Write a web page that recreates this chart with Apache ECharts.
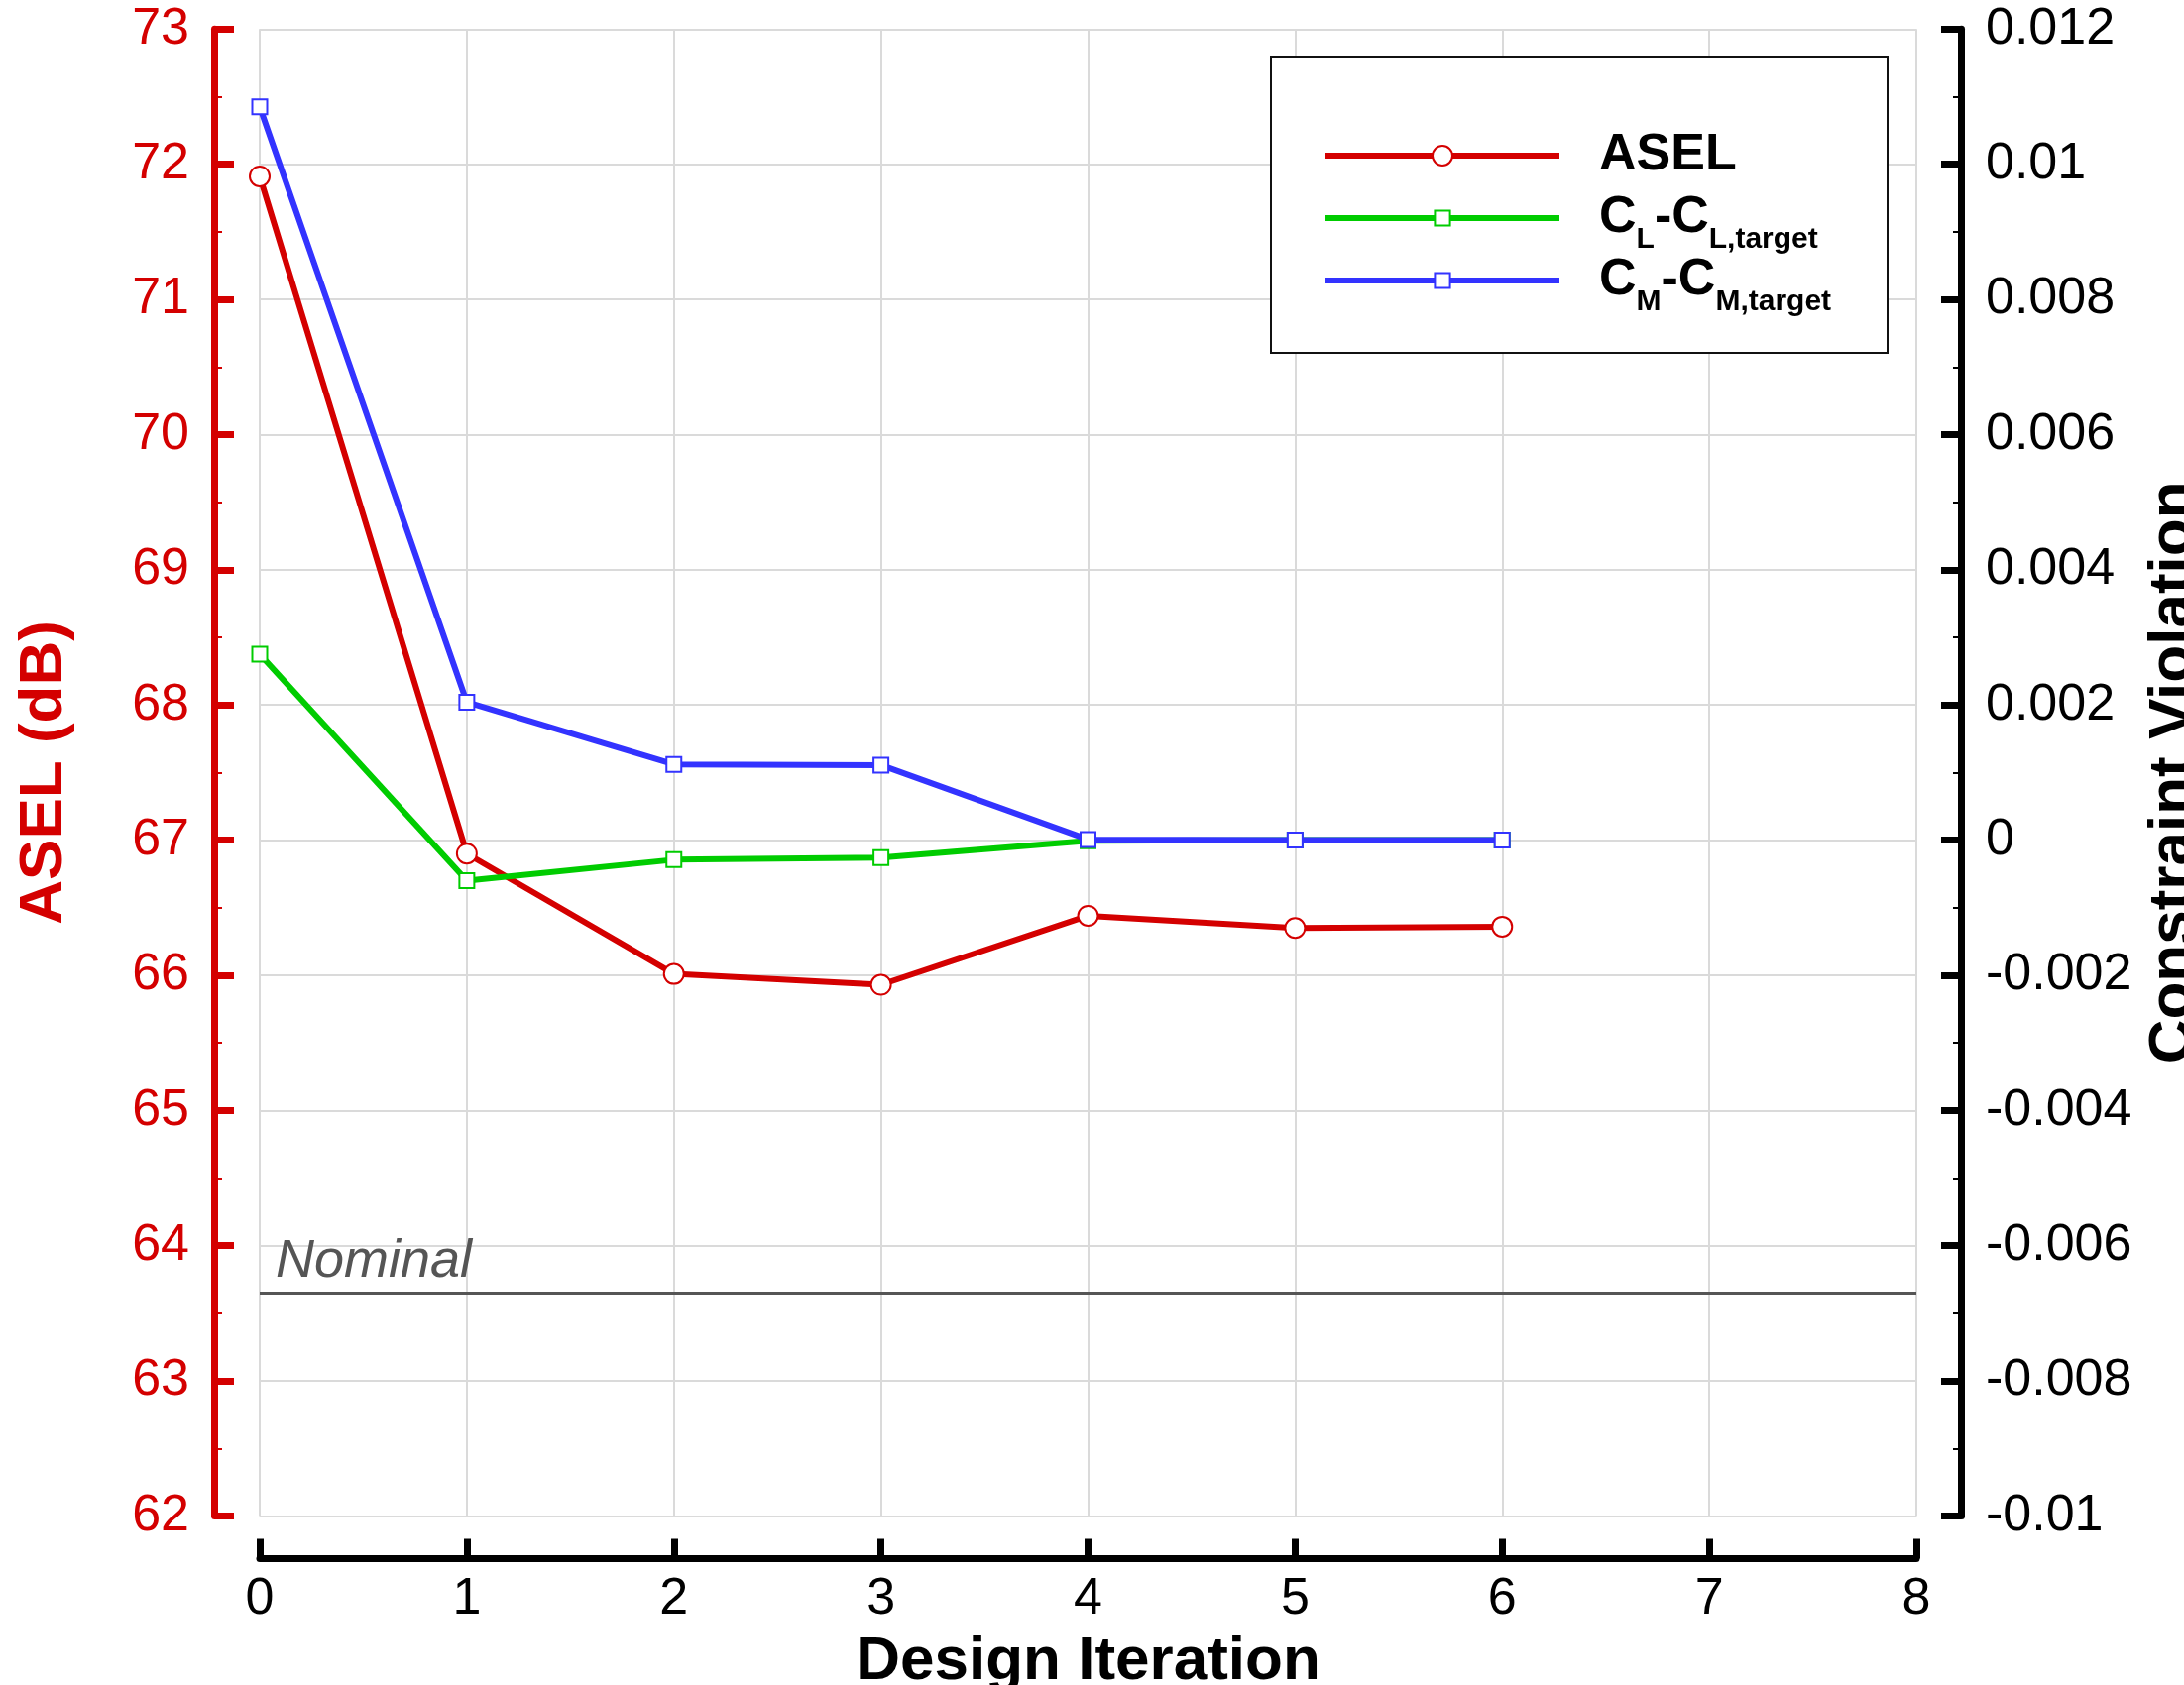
<!DOCTYPE html>
<html>
<head>
<meta charset="utf-8">
<title>ASEL and constraint violation vs design iteration</title>
<script src="https://cdn.jsdelivr.net/npm/echarts@6/dist/echarts.min.js"></script>
<style>
  html, body { margin: 0; padding: 0; background: #fff; }
  #chart { width: 2203px; height: 1700px; }
</style>
</head>
<body>
<div id="chart"></div>
<script>
// ---- data ----
const iterations = [0, 1, 2, 3, 4, 5, 6];
const aselValues = [71.91, 66.90, 66.01, 65.93, 66.44, 66.35, 66.36];          // dB
const clViolation = [0.00275, -0.00060, -0.00029, -0.00026, -0.00001, 0.0, 0.0]; // CL - CL,target
const cmViolation = [0.01085, 0.00204, 0.00112, 0.00111, 0.00001, 0.0, 0.0];     // CM - CM,target
const nominalAsel = 63.65;

// axis ranges
const iterationRange = { min: 0, max: 8, step: 1 };
const aselRange = { min: 62, max: 73, step: 1 };
const violationRange = { min: -0.01, max: 0.012, step: 0.002 };

// ---- styles ----
const FONT = '"Liberation Sans", Arial, Helvetica, sans-serif';
const RED = '#d40000';
const GREEN = '#00cc00';
const BLUE = '#3333ff';
const GRID = '#dadada';

const toPairs = (ys) => iterations.map((x, i) => [x, ys[i]]);

const legendText = {
  ASEL: 'ASEL',
  CL: '{m|C}{s|L}{m|-C}{s|L,target}',
  CM: '{m|C}{s|M}{m|-C}{s|M,target}'
};

function makeLegend(name, top, itemHeight) {
  return {
    data: [name],
    left: 1334,
    top: top,
    padding: 0,
    orient: 'vertical',
    itemWidth: 236,
    itemHeight: itemHeight,
    selectedMode: false,
    z: 5,
    itemStyle: { borderWidth: 2 },
    lineStyle: { width: 6 },
    formatter: (n) => legendText[n],
    textStyle: {
      fontFamily: FONT, fontSize: 52, fontWeight: 'bold', color: '#000',
      padding: [0, 0, 0, 35],
      rich: {
        m: { fontFamily: FONT, fontSize: 52, fontWeight: 'bold', color: '#000' },
        s: { fontFamily: FONT, fontSize: 30, fontWeight: 'bold', color: '#000', padding: [44, 0, 0, 0] }
      }
    }
  };
}

const chart = echarts.init(document.getElementById('chart'), null, { renderer: 'canvas' });

chart.setOption({
  animation: false,
  backgroundColor: '#fff',
  grid: {
    left: 262, right: 270, top: 29.3, bottom: 170.5,
    containLabel: false, outerBoundsMode: 'none'
  },
  graphic: [{
    type: 'rect', silent: true, z: 3,
    shape: { x: 1282, y: 58, width: 622, height: 298 },
    style: { fill: '#fff', stroke: '#111', lineWidth: 2 }
  }],
  legend: [
    makeLegend('ASEL', 131, 25),
    makeLegend('CL', 194, 19),
    makeLegend('CM', 257, 19)
  ],
  xAxis: {
    type: 'value',
    min: iterationRange.min, max: iterationRange.max, interval: iterationRange.step,
    position: 'bottom', offset: 43,
    axisLine: { show: true, onZero: false, lineStyle: { color: '#000', width: 7 } },
    axisTick: { show: true, inside: true, length: 20, lineStyle: { color: '#000', width: 7 } },
    axisLabel: { margin: 15, fontSize: 52, color: '#000', fontFamily: FONT },
    splitLine: { show: true, lineStyle: { color: GRID, width: 2 } },
    name: 'Design Iteration', nameLocation: 'middle', nameGap: 73,
    nameTextStyle: { fontSize: 62, fontWeight: 'bold', color: '#000', fontFamily: FONT }
  },
  yAxis: [
    {
      type: 'value',
      min: aselRange.min, max: aselRange.max, interval: aselRange.step,
      position: 'left', offset: 46,
      axisLine: { show: true, onZero: false, lineStyle: { color: RED, width: 7 } },
      axisTick: { show: true, inside: true, length: 20, lineStyle: { color: RED, width: 7 } },
      minorTick: { show: true, splitNumber: 2, length: 8, lineStyle: { color: RED, width: 2 } },
      axisLabel: { margin: 25, fontSize: 52, color: RED, fontFamily: FONT, padding: [6, 0, 0, 0] },
      splitLine: { show: true, lineStyle: { color: GRID, width: 2 } },
      name: 'ASEL (dB)', nameLocation: 'middle', nameRotate: 90, nameGap: 140,
      nameTextStyle: { fontSize: 62, fontWeight: 'bold', color: RED, fontFamily: FONT }
    },
    {
      type: 'value',
      min: violationRange.min, max: violationRange.max, interval: violationRange.step,
      position: 'right', offset: 45,
      axisLine: { show: true, onZero: false, lineStyle: { color: '#000', width: 7 } },
      axisTick: { show: true, inside: true, length: 20, lineStyle: { color: '#000', width: 7 } },
      minorTick: { show: true, splitNumber: 2, length: 8, lineStyle: { color: '#000', width: 2 } },
      axisLabel: {
        margin: 25, fontSize: 52, color: '#000', fontFamily: FONT, padding: [6, 0, 0, 0],
        formatter: (v) => String(+v.toFixed(4))
      },
      splitLine: { show: false },
      name: 'Constraint Violation', nameLocation: 'middle', nameRotate: 90, nameGap: 184,
      nameTextStyle: { fontSize: 62, fontWeight: 'bold', color: '#000', fontFamily: FONT }
    }
  ],
  series: [
    {
      name: 'ASEL', type: 'line', yAxisIndex: 0,
      data: toPairs(aselValues),
      symbol: 'circle', symbolSize: 20,
      lineStyle: { color: RED, width: 6 },
      itemStyle: { color: '#fff', borderColor: RED, borderWidth: 2 },
      emphasis: { disabled: true },
      z: 2,
      markLine: {
        silent: true, animation: false,
        symbol: ['none', 'none'],
        lineStyle: { color: '#555', width: 4, type: 'solid' },
        emphasis: { disabled: true },
        label: {
          show: true, position: 'insideStartTop', formatter: 'Nominal',
          fontSize: 54, fontStyle: 'italic', color: '#555', fontFamily: FONT,
          distance: [16, 4]
        },
        data: [{ yAxis: nominalAsel }]
      }
    },
    {
      name: 'CL', type: 'line', yAxisIndex: 1,
      data: toPairs(clViolation),
      symbol: 'rect', symbolSize: 15,
      lineStyle: { color: GREEN, width: 6 },
      itemStyle: { color: '#fff', borderColor: GREEN, borderWidth: 2 },
      emphasis: { disabled: true },
      z: 3
    },
    {
      name: 'CM', type: 'line', yAxisIndex: 1,
      data: toPairs(cmViolation),
      symbol: 'rect', symbolSize: 15,
      lineStyle: { color: BLUE, width: 6 },
      itemStyle: { color: '#fff', borderColor: BLUE, borderWidth: 2 },
      emphasis: { disabled: true },
      z: 4
    }
  ]
});
</script>
</body>
</html>
